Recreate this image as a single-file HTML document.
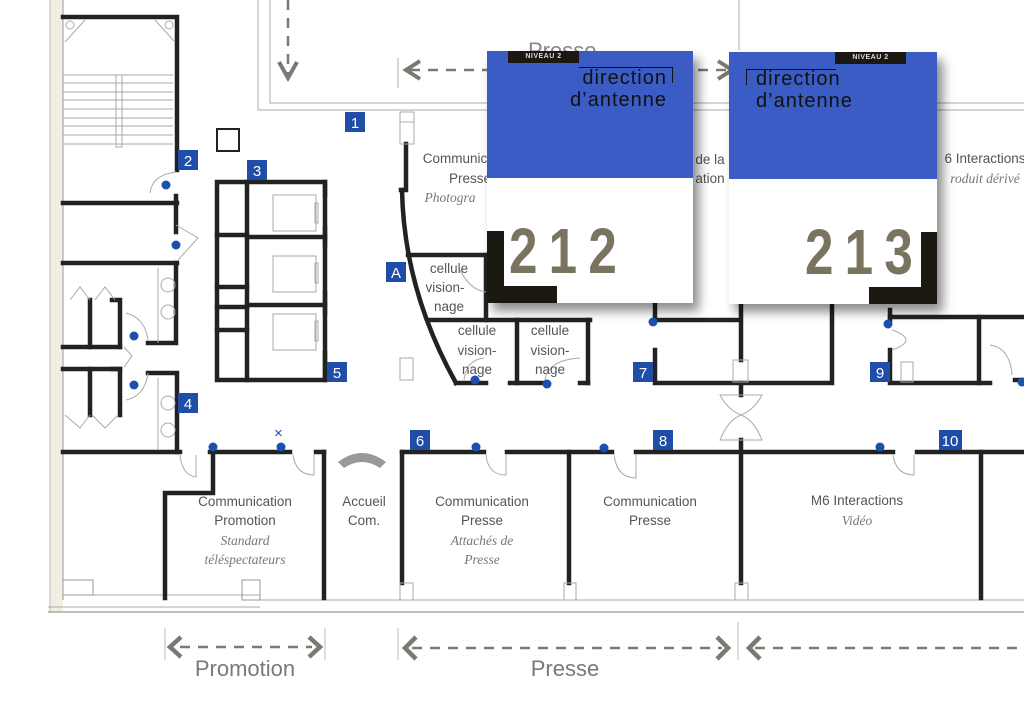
<!DOCTYPE html>
<html><head><meta charset="utf-8"><style>
html,body{margin:0;padding:0;background:#fff;}
body{width:1024px;height:714px;overflow:hidden;position:relative;font-family:"Liberation Sans",sans-serif;}
svg{position:absolute;left:0;top:0;}
.card{position:absolute;background:#fff;box-shadow:6px 8px 10px rgba(0,0,0,.45);overflow:hidden;}
.card .blue{position:absolute;left:0;top:0;right:0;height:127px;background:#3b5cc4;}
.card .niv{position:absolute;top:0;height:12px;width:71px;background:#1a1810;color:#ddd;font-size:7px;font-weight:bold;line-height:12px;text-align:center;letter-spacing:.5px;}
.card .t{position:absolute;font-size:20px;line-height:22px;color:#111;letter-spacing:1px;}
.card .num{position:absolute;top:168px;font-size:64px;line-height:64px;color:#7a7360;font-weight:bold;letter-spacing:14px;transform:scaleX(.8);}
</style></head><body>
<svg width="1024" height="714" viewBox="0 0 1024 714" font-family="Liberation Sans, sans-serif">
<!-- outer left wall -->
<rect x="50" y="0" width="13" height="612" fill="#f1eee4"/>
<line x1="50" y1="0" x2="50" y2="612" stroke="#bbb" stroke-width="1"/>
<line x1="63" y1="0" x2="63" y2="600" stroke="#999" stroke-width="1"/>
<!-- bottom outer wall -->
<line x1="48" y1="612" x2="1024" y2="612" stroke="#aaa" stroke-width="1.5"/>
<line x1="260" y1="600" x2="1024" y2="600" stroke="#aaa" stroke-width="1"/>
<line x1="48" y1="607" x2="260" y2="607" stroke="#aaa" stroke-width="1"/>
<line x1="63" y1="595" x2="260" y2="595" stroke="#aaa" stroke-width="1"/>
<rect x="63" y="580" width="30" height="15" fill="none" stroke="#999"/>
<rect x="242" y="580" width="18" height="20" fill="none" stroke="#999"/>
<!-- top frame -->
<g stroke="#bbb" stroke-width="1.2" fill="none">
<polyline points="258,0 258,110 1024,110"/>
<polyline points="270,0 270,103 1024,103"/>
<line x1="739" y1="0" x2="739" y2="50"/>
<line x1="398" y1="58" x2="398" y2="88"/>
</g>
<!-- dashed arrows top -->
<g stroke="#7a7a72" stroke-width="2.5" fill="none" stroke-dasharray="10,8">
<line x1="288" y1="0" x2="288" y2="74"/>
<line x1="410" y1="70" x2="730" y2="70"/>
</g>
<g stroke="#7a7a72" stroke-width="4" fill="none">
<polyline points="279,62 288,78 297,62"/>
<polyline points="420,61 406,70 420,79"/>
<polyline points="718,61 732,70 718,79"/>
</g>
<text x="528" y="58" font-size="22" fill="#888">Presse</text>

<g stroke="#222" stroke-width="4.5" fill="none" stroke-linecap="square">
<!-- stair room -->
<polyline points="63,17 177,17 177,170"/>
<!-- left block -->
<line x1="63" y1="203" x2="177" y2="203"/><line x1="176" y1="196" x2="176" y2="232"/>
<line x1="63" y1="263" x2="177" y2="263"/><polyline points="176,263 176,343 148,343"/>
<line x1="63" y1="347" x2="120" y2="347"/><line x1="90" y1="300" x2="90" y2="347"/><polyline points="112,300 120,300 120,347"/>
<line x1="63" y1="369" x2="120" y2="369"/><line x1="90" y1="369" x2="90" y2="415"/><polyline points="112,369 120,369 120,415"/>
<polyline points="148,373 177,373 177,452"/>
<!-- corridor wall -->
<line x1="63" y1="452" x2="180" y2="452"/>
<line x1="210" y1="452" x2="290" y2="452"/>
<line x1="316" y1="452" x2="324" y2="452"/>
<line x1="402" y1="452" x2="484" y2="452"/>
<line x1="507" y1="452" x2="612" y2="452"/>
<line x1="636" y1="452" x2="893" y2="452"/>
<line x1="917" y1="452" x2="1024" y2="452"/>
<polyline points="213,452 213,493 165,493 165,598"/>
<line x1="324" y1="452" x2="324" y2="598"/>
<line x1="402" y1="452" x2="402" y2="583"/>
<line x1="569" y1="452" x2="569" y2="583"/>
<line x1="741" y1="440" x2="741" y2="583"/>
<line x1="981" y1="452" x2="981" y2="598"/>
<!-- lockers -->
<rect x="217" y="182" width="108" height="198"/>
<line x1="247" y1="182" x2="247" y2="380"/>
<line x1="217" y1="235" x2="247" y2="235"/><line x1="247" y1="237" x2="325" y2="237"/>
<line x1="217" y1="287" x2="247" y2="287"/><line x1="217" y1="307" x2="247" y2="307"/><line x1="247" y1="305" x2="325" y2="305"/>
<line x1="217" y1="330" x2="247" y2="330"/>
<line x1="325" y1="182" x2="325" y2="195"/><line x1="325" y1="228" x2="325" y2="245"/><line x1="325" y1="293" x2="325" y2="313"/><line x1="325" y1="353" x2="325" y2="380"/>
<!-- curved -->
<polyline points="406,144 406,190 401,190"/>
<path d="M402,190 Q404,290 456,383"/>
<line x1="408" y1="255" x2="487" y2="255"/><line x1="486" y1="255" x2="486" y2="320"/>
<line x1="428" y1="320" x2="590" y2="320"/>
<line x1="517" y1="320" x2="517" y2="383"/><line x1="588" y1="320" x2="588" y2="383"/>
<line x1="456" y1="383" x2="486" y2="383"/><line x1="510" y1="383" x2="545" y2="383"/><line x1="580" y1="383" x2="588" y2="383"/>
<!-- room 7 -->
<polyline points="655,350 655,383 832,383 832,303"/>
<line x1="655" y1="320" x2="740" y2="320"/><line x1="741" y1="303" x2="741" y2="360"/>
<line x1="655" y1="303" x2="655" y2="320"/>
<line x1="741" y1="383" x2="741" y2="395"/>
<!-- room 9 -->
<polyline points="890,310 890,322"/><polyline points="890,350 890,383 990,383"/>
<line x1="890" y1="317" x2="1024" y2="317"/><line x1="979" y1="317" x2="979" y2="383"/>
<line x1="1015" y1="380" x2="1024" y2="380"/>
</g>
<!-- stairs detail -->
<g stroke="#aaa" stroke-width="1" fill="none">
<line x1="63" y1="75" x2="173" y2="75"/><line x1="63" y1="83" x2="173" y2="83"/><line x1="63" y1="92" x2="173" y2="92"/><line x1="63" y1="100" x2="173" y2="100"/><line x1="63" y1="109" x2="173" y2="109"/><line x1="63" y1="118" x2="173" y2="118"/><line x1="63" y1="126" x2="173" y2="126"/><line x1="63" y1="135" x2="173" y2="135"/><line x1="63" y1="144" x2="173" y2="144"/>
<rect x="116" y="75" width="6" height="72"/>
<path d="M65,42 L85,20 M155,20 L175,42"/><circle cx="70" cy="25" r="4"/><circle cx="169" cy="25" r="4"/>
<!-- sinks -->
<line x1="158" y1="268" x2="158" y2="343"/><line x1="158" y1="378" x2="158" y2="450"/>
<circle cx="168" cy="285" r="7"/><circle cx="168" cy="312" r="7"/><circle cx="168" cy="403" r="7"/><circle cx="168" cy="430" r="7"/>
<!-- doors -->
<path d="M150,193 Q152,175 176,172"/><path d="M176,225 L198,238 L178,260"/>
<path d="M126,313 Q145,318 148,340"/><path d="M126,400 Q145,396 148,373"/>
<path d="M124,347 L132,356 L124,367"/>
<path d="M70,300 L80,287 L90,300 M95,300 L105,287 L115,300"/>
<path d="M65,415 L80,428 L90,415 M92,415 L105,428 L118,415"/>
<path d="M180,455 Q182,475 196,477 L196,455"/><path d="M293,455 Q296,475 314,475 L314,455"/>
<path d="M486,455 Q488,475 506,475 L506,455"/><path d="M614,455 Q617,478 636,478 L636,455"/>
<path d="M893,455 Q896,475 914,475 L914,455"/>
<path d="M892,330 Q920,340 892,350"/><path d="M990,345 Q1010,348 1012,375"/>
<path d="M464,380 Q466,360 484,358"/><path d="M545,380 Q548,360 580,358"/>
<path d="M460,270 Q470,290 486,292"/>
<!-- boxes -->
<rect x="217" y="129" width="22" height="22" stroke="#222" stroke-width="2"/>
<rect x="273" y="195" width="43" height="36"/><rect x="273" y="256" width="43" height="36"/><rect x="273" y="314" width="43" height="36"/>
<rect x="315" y="203" width="3" height="20"/><rect x="315" y="263" width="3" height="20"/><rect x="315" y="321" width="3" height="20"/>
<rect x="400" y="112" width="14" height="32"/><line x1="400" y1="122" x2="414" y2="122"/>
<rect x="400" y="358" width="13" height="22"/>
<rect x="733" y="360" width="15" height="22"/><rect x="901" y="362" width="12" height="20"/>
<rect x="400" y="583" width="13" height="17"/><rect x="564" y="583" width="12" height="17"/><rect x="735" y="583" width="13" height="17"/>
<path d="M720,395 L762,395 Q754,410 741,415 Q728,410 720,395 Z"/><path d="M720,440 L762,440 Q754,420 741,415 Q728,420 720,440 Z"/>
<line x1="0" y1="0" x2="0" y2="0"/>
</g>
<path d="M338,462 Q362,444 386,462 L380,468 Q362,456 344,468 Z" fill="#999"/>
<!-- dots -->
<g fill="#1d4fae">
<circle cx="166" cy="185" r="4.5"/><circle cx="176" cy="245" r="4.5"/><circle cx="134" cy="336" r="4.5"/><circle cx="134" cy="385" r="4.5"/>
<circle cx="213" cy="447" r="4.5"/><circle cx="281" cy="447" r="4.5"/><circle cx="475" cy="380" r="4.5"/><circle cx="547" cy="384" r="4.5"/>
<circle cx="476" cy="447" r="4.5"/><circle cx="604" cy="448" r="4.5"/><circle cx="880" cy="447" r="4.5"/><circle cx="653" cy="322" r="4.5"/><circle cx="888" cy="324" r="4.5"/><circle cx="1022" cy="382" r="4.5"/>
</g>
<text x="274" y="438" font-size="15" fill="#1d4fae">×</text>
<!-- number squares -->
<g fill="#1f4da8">
<rect x="345" y="112" width="20" height="20"/><rect x="178" y="150" width="20" height="20"/><rect x="247" y="160" width="20" height="20"/>
<rect x="386" y="262" width="20" height="20"/><rect x="327" y="362" width="20" height="20"/><rect x="178" y="393" width="20" height="20"/>
<rect x="410" y="430" width="20" height="20"/><rect x="653" y="430" width="20" height="20"/><rect x="633" y="362" width="20" height="20"/>
<rect x="870" y="362" width="20" height="20"/><rect x="939" y="430" width="23" height="20"/>
</g>
<g fill="#fff" font-size="15" text-anchor="middle">
<text x="355" y="128">1</text><text x="188" y="166">2</text><text x="257" y="176">3</text><text x="396" y="278">A</text><text x="337" y="378">5</text><text x="188" y="409">4</text><text x="420" y="446">6</text><text x="663" y="446">8</text><text x="643" y="378">7</text><text x="880" y="378">9</text><text x="950" y="446">10</text>
</g>
<!-- labels -->
<g fill="#555" font-size="13.5" text-anchor="middle">
<text x="245" y="506">Communication</text><text x="245" y="525">Promotion</text>
<text x="364" y="506">Accueil</text><text x="364" y="525">Com.</text>
<text x="482" y="506">Communication</text><text x="482" y="525">Presse</text>
<text x="650" y="506">Communication</text><text x="650" y="525">Presse</text>
<text x="857" y="505">M6 Interactions</text>
<text x="455" y="163">Communic</text><text x="470" y="183">Presse</text>
<text x="449" y="273">cellule</text><text x="445" y="292">vision-</text><text x="449" y="311">nage</text>
<text x="477" y="335">cellule</text><text x="477" y="355">vision-</text><text x="477" y="374">nage</text>
<text x="550" y="335">cellule</text><text x="550" y="355">vision-</text><text x="550" y="374">nage</text>
<text x="710" y="164">de la</text><text x="710" y="183">ation</text>
<text x="985" y="163">6 Interactions</text>
</g>
<g fill="#777" font-size="13.5" font-style="italic" font-family="Liberation Serif, serif" text-anchor="middle">
<text x="245" y="545">Standard</text><text x="245" y="564">téléspectateurs</text>
<text x="482" y="545">Attachés de</text><text x="482" y="564">Presse</text>
<text x="857" y="525">Vidéo</text><text x="450" y="202">Photogra</text><text x="985" y="183">roduit dérivé</text>
</g>
<!-- bottom arrows -->
<g stroke="#bbb" stroke-width="1"><line x1="165" y1="628" x2="165" y2="660"/><line x1="325" y1="628" x2="325" y2="660"/><line x1="398" y1="628" x2="398" y2="660"/><line x1="738" y1="622" x2="738" y2="660"/></g>
<g stroke="#7a7a72" stroke-width="2.5" fill="none" stroke-dasharray="10,8">
<line x1="180" y1="647" x2="312" y2="647"/><line x1="412" y1="648" x2="722" y2="648"/><line x1="755" y1="648" x2="1024" y2="648"/>
</g>
<g stroke="#7a7a72" stroke-width="4.5" fill="none">
<polyline points="181,637 170,647 181,657"/><polyline points="309,637 320,647 309,657"/>
<polyline points="416,637 405,648 416,659"/><polyline points="717,637 728,648 717,659"/><polyline points="760,637 749,648 760,659"/>
</g>
<text x="245" y="676" font-size="22" fill="#7a7a72" text-anchor="middle">Promotion</text>
<text x="565" y="676" font-size="22" fill="#7a7a72" text-anchor="middle">Presse</text>
</svg>

<div class="card" style="left:487px;top:51px;width:206px;height:252px;">
  <div class="blue"></div>
  <div class="niv" style="left:21px;">NIVEAU 2</div>
  <div style="position:absolute;left:92px;top:16px;width:93px;height:1px;background:#111;"></div>
  <div style="position:absolute;left:185px;top:16px;width:1px;height:16px;background:#111;"></div>
  <div class="t" style="right:26px;top:16px;text-align:right;">direction<br>d’antenne</div>
  <div style="position:absolute;left:0;top:180px;width:17px;height:72px;background:#1a1810;"></div>
  <div style="position:absolute;left:0;top:235px;width:70px;height:17px;background:#1a1810;"></div>
  <div class="num" style="left:22px;transform-origin:left;">212</div>
</div>
<div class="card" style="left:729px;top:52px;width:208px;height:252px;">
  <div class="blue"></div>
  <div class="niv" style="left:106px;">NIVEAU 2</div>
  <div style="position:absolute;left:17px;top:17px;width:90px;height:1px;background:#111;"></div>
  <div style="position:absolute;left:17px;top:17px;width:1px;height:16px;background:#111;"></div>
  <div class="t" style="left:27px;top:16px;">direction<br>d’antenne</div>
  <div style="position:absolute;right:0;top:180px;width:16px;height:72px;background:#1a1810;"></div>
  <div style="position:absolute;right:0;top:235px;width:68px;height:17px;background:#1a1810;"></div>
  <div class="num" style="left:76px;transform-origin:left;">213</div>
</div>
</body></html>
